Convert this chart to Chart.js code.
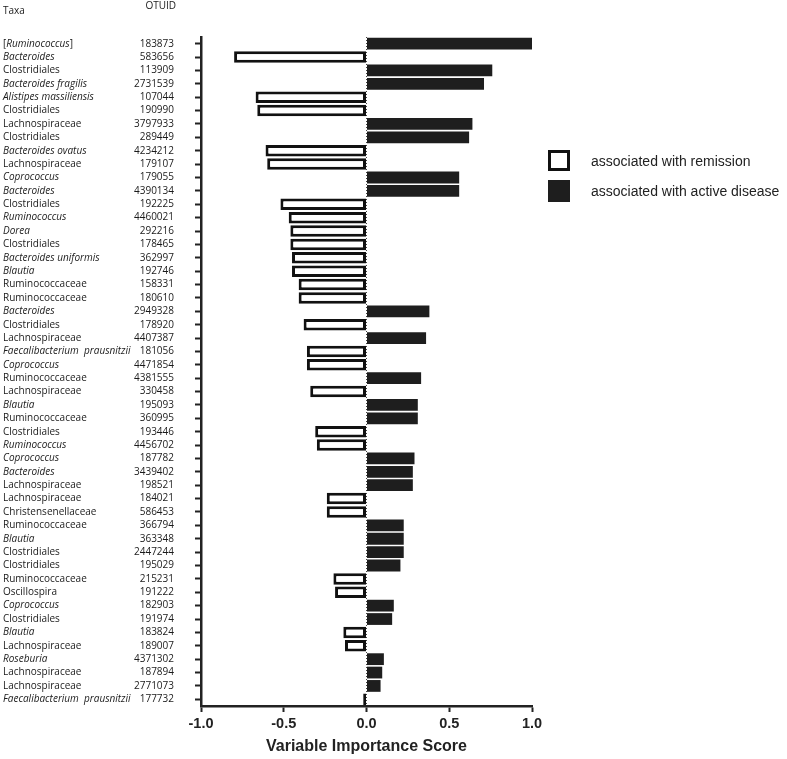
<!DOCTYPE html>
<html><head><meta charset="utf-8">
<script src="https://cdn.jsdelivr.net/npm/chart.js@4.4.0/dist/chart.umd.min.js"></script>
<style>html,body{margin:0;padding:0;background:#fff}#wrap{width:787px;height:759px}</style>
</head><body><div id="wrap"><canvas id="c" width="787" height="759"></canvas></div>
<script>
const taxa = ["[Ruminococcus]","Bacteroides","Clostridiales","Bacteroides fragilis","Alistipes massiliensis","Clostridiales","Lachnospiraceae","Clostridiales","Bacteroides ovatus","Lachnospiraceae","Coprococcus","Bacteroides","Clostridiales","Ruminococcus","Dorea","Clostridiales","Bacteroides uniformis","Blautia","Ruminococcaceae","Ruminococcaceae","Bacteroides","Clostridiales","Lachnospiraceae","Faecalibacterium  prausnitzii","Coprococcus","Ruminococcaceae","Lachnospiraceae","Blautia","Ruminococcaceae","Clostridiales","Ruminococcus","Coprococcus","Bacteroides","Lachnospiraceae","Lachnospiraceae","Christensenellaceae","Ruminococcaceae","Blautia","Clostridiales","Clostridiales","Ruminococcaceae","Oscillospira","Coprococcus","Clostridiales","Blautia","Lachnospiraceae","Roseburia","Lachnospiraceae","Lachnospiraceae","Faecalibacterium  prausnitzii"];
const italicTaxa = [1,1,0,1,1,0,0,0,1,0,1,1,0,1,1,0,1,1,0,0,1,0,0,1,1,0,0,1,0,0,1,1,1,0,0,0,0,1,0,0,0,0,1,0,1,0,1,0,0,1];
const otuIds = ["183873","583656","113909","2731539","107044","190990","3797933","289449","4234212","179107","179055","4390134","192225","4460021","292216","178465","362997","192746","158331","180610","2949328","178920","4407387","181056","4471854","4381555","330458","195093","360995","193446","4456702","187782","3439402","198521","184021","586453","366794","363348","2447244","195029","215231","191222","182903","191974","183824","189007","4371302","187894","2771073","177732"];
const scores = [1.00,-0.80,0.76,0.71,-0.67,-0.66,0.64,0.62,-0.61,-0.60,0.56,0.56,-0.52,-0.47,-0.46,-0.46,-0.45,-0.45,-0.41,-0.41,0.38,-0.38,0.36,-0.36,-0.36,0.33,-0.34,0.31,0.31,-0.31,-0.30,0.29,0.28,0.28,-0.24,-0.24,0.225,0.225,0.225,0.205,-0.20,-0.19,0.165,0.155,-0.14,-0.13,0.105,0.095,0.085,-0.02];
const xMin = -1.0, xMax = 1.0, xStep = 0.5;
const legendLabels = ["associated with remission","associated with active disease"];
const axisTitle = "Variable Importance Score";
const headers = ["Taxa","OTUID"];

const remission = scores.map(v => v < 0 ? v : null);
const active = scores.map(v => v > 0 ? v : null);
const FONT = "'Open Sans', sans-serif";
const FS = 10;
const DARK = '#1e1e1e';

const sidePlugin = {
  id: 'side',
  afterDraw(chart) {
    const ctx = chart.ctx, ys = chart.scales.y;
    ctx.save();
    ctx.fillStyle = '#1a1a1a';
    ctx.textBaseline = 'middle';
    ctx.textAlign = 'left';
    taxa.forEach((t, i) => {
      const y = ys.getPixelForValue(i);
      if (t.startsWith('[')) {
        ctx.font = `${FS}px ${FONT}`;
        ctx.fillText('[', 3, y);
        let x = 3 + ctx.measureText('[').width;
        ctx.font = `italic ${FS}px ${FONT}`;
        const inner = t.slice(1, -1);
        ctx.fillText(inner, x, y);
        x += ctx.measureText(inner).width;
        ctx.font = `${FS}px ${FONT}`;
        ctx.fillText(']', x, y);
      } else {
        ctx.font = (italicTaxa[i] ? 'italic ' : '') + `${FS}px ${FONT}`;
        ctx.fillText(t, 3, y);
      }
    });
    ctx.font = `${FS}px ${FONT}`;
    ctx.fillText(headers[0], 3, 11);
    ctx.textAlign = 'right';
    ctx.fillText(headers[1], 176, 6);
    // legend
    const lx = 548, ly = [150, 180];
    ctx.strokeStyle = '#111'; ctx.lineWidth = 3;
    ctx.fillStyle = '#fff';
    ctx.fillRect(lx + 1.5, ly[0] + 1.5, 19, 18);
    ctx.strokeRect(lx + 1.5, ly[0] + 1.5, 19, 18);
    ctx.fillStyle = DARK;
    ctx.fillRect(lx, ly[1], 22, 22);
    ctx.fillStyle = '#222';
    ctx.textAlign = 'left';
    ctx.font = "14px 'Liberation Sans', Arial, sans-serif";
    ctx.fillText(legendLabels[0], 591, ly[0] + 12);
    ctx.fillText(legendLabels[1], 591, ly[1] + 12);
    ctx.restore();
  }
};

new Chart(document.getElementById('c'), {
  type: 'bar',
  data: {
    labels: otuIds,
    datasets: [
      { label: legendLabels[0], data: remission, backgroundColor: '#fff', borderColor: '#111', borderWidth: 3, borderSkipped: false, barPercentage: 0.86, categoryPercentage: 1 },
      { label: legendLabels[1], data: active, backgroundColor: DARK, borderWidth: 0, barPercentage: 0.88, categoryPercentage: 1 }
    ]
  },
  options: {
    indexAxis: 'y',
    responsive: false,
    animation: false,
    devicePixelRatio: 1,
    grouped: false,
    layout: { padding: { top: 37, right: 255, left: 0, bottom: 0 } },
    plugins: { legend: { display: false }, tooltip: { enabled: false } },
    scales: {
      x: {
        min: xMin, max: xMax,
        afterFit: s => { s.height = 53; },
        ticks: { stepSize: xStep, autoSkip: false, maxRotation: 0, padding: 3, color: '#222',
          font: { family: "'Liberation Sans', Arial, sans-serif", size: 14.5, weight: 'bold' },
          callback: v => Number(v).toFixed(1) },
        grid: { drawOnChartArea: true, drawTicks: true, tickLength: 6, tickWidth: 2, tickColor: '#222', lineWidth: 1,
          color: c => (c.tick && c.tick.value === 0) ? '#444' : 'rgba(0,0,0,0)' },
        border: { display: true, color: '#222', width: 2.5, dash: [1, 2] },
        title: { display: true, text: axisTitle, color: '#222', padding: { top: 0, bottom: 3 },
          font: { family: "'Liberation Sans', Arial, sans-serif", size: 16, weight: 'bold' } }
      },
      y: {
        afterFit: s => { s.width = 201; },
        ticks: { autoSkip: false, padding: 21, color: '#1a1a1a', font: { family: FONT, size: FS } },
        grid: { offset: false, drawOnChartArea: false, drawTicks: true, tickLength: 6, tickWidth: 2, tickColor: '#222' },
        border: { display: true, color: '#222', width: 2.5 }
      }
    }
  },
  plugins: [sidePlugin]
});
</script></body></html>
